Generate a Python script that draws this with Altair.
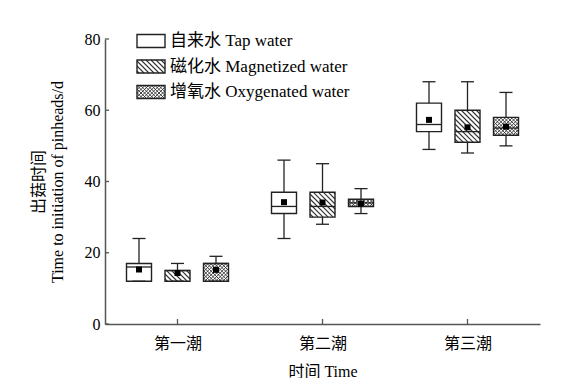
import altair as alt
import pandas as pd

# ---------------- data ----------------
groups = ["第一潮", "第二潮", "第三潮"]
series = ["自来水 Tap water", "磁化水 Magnetized water", "增氧水 Oxygenated water"]
patterns = ["none", "diag", "cross"]

# per series: values for the three flushes
mins   = [[12, 24, 49], [12, 28, 48], [12, 31, 50]]
q1s    = [[12, 31, 54], [12, 30, 51], [12, 33, 53]]
meds   = [[16, 33, 56], [15, 33, 54], [17, 34, 55]]
q3s    = [[17, 37, 62], [15, 37, 60], [17, 35, 58]]
maxs   = [[24, 46, 68], [17, 45, 68], [19, 38, 65]]
means  = [[15.3, 34.2, 57.3], [14.3, 34.1, 55.2], [15.2, 33.8, 55.4]]

y_ticks = [0, 20, 40, 60, 80]

# ---------------- layout helpers ----------------
W, H = 435, 285
XMAX, YMAX = 3.0, 80.0
PXX = W / XMAX          # px per x unit
PXY = H / YMAX          # px per y unit
OFF = 38.5 / PXX        # series offset within a group
HALF = 12.5 / PXX       # half box width
CAP = 6.5 / PXX         # half cap width

def px2x(p):
    return p / PXX

def px2y(p):
    return YMAX - p / PXY

FONT = "Liberation Serif, Noto Sans CJK SC"

rows = []
for si, s in enumerate(series):
    for gi, g in enumerate(groups):
        xc = gi + 0.5 + (si - 1) * OFF
        rows.append(dict(series=s, group=g, pattern=patterns[si], xc=xc,
                         x0=xc - HALF, x1=xc + HALF, c0=xc - CAP, c1=xc + CAP,
                         lo=mins[si][gi], q1=q1s[si][gi], med=meds[si][gi],
                         q3=q3s[si][gi], hi=maxs[si][gi], mean=means[si][gi]))
df = pd.DataFrame(rows)

# legend boxes (pixel layout within plot, converted to data units)
leg_rows = []
for si, s in enumerate(series):
    cy = 2.0 + si * 25.5
    leg_rows.append(dict(series=s, pattern=patterns[si],
                         x0=px2x(32), x1=px2x(60),
                         y0=px2y(cy - 6.5), y1=px2y(cy + 6.5),
                         tx=px2x(65), ty=px2y(cy)))
leg = pd.DataFrame(leg_rows)

# hatch lines generated from box rectangles (pixel space, then to data units)
def hatch(x0, x1, ytop, ybot, kind):
    segs = []
    if kind == "none":
        return segs
    sp = 5.0 if kind == "diag" else 3.6
    dirs = ["back"] if kind == "diag" else ["back", "fwd"]
    for d in dirs:
        if d == "back":   # y = x + c  (top-left to bottom-right)
            cmin = ytop - x1
            cmax = ybot - x0
            k = int(cmin // sp)
            while k * sp <= cmax:
                c = k * sp
                a = max(x0, ytop - c)
                b = min(x1, ybot - c)
                if b - a > 0.3:
                    segs.append((a, a + c, b, b + c))
                k += 1
        else:             # x + y = c
            cmin = x0 + ytop
            cmax = x1 + ybot
            k = int(cmin // sp)
            while k * sp <= cmax:
                c = k * sp
                a = max(x0, c - ybot)
                b = min(x1, c - ytop)
                if b - a > 0.3:
                    segs.append((a, c - a, b, c - b))
                k += 1
    return segs

hrows = []
def add_hatch(x0d, x1d, ytopd, ybotd, kind):
    x0p, x1p = x0d * PXX, x1d * PXX
    ytp, ybp = (YMAX - ytopd) * PXY, (YMAX - ybotd) * PXY
    for (ax, ay, bx, by) in hatch(x0p, x1p, ytp, ybp, kind):
        hrows.append(dict(kind=kind, hx=px2x(ax), hy=px2y(ay),
                          hx2=px2x(bx), hy2=px2y(by)))

for r in rows:
    add_hatch(r["x0"], r["x1"], r["q3"], r["q1"], r["pattern"])
for r in leg_rows:
    add_hatch(r["x0"], r["x1"], r["y0"], r["y1"], r["pattern"])
hdf = pd.DataFrame(hrows)

# axis tick marks (inward)
ytick_df = pd.DataFrame({"v": y_ticks, "a": 0.0, "b": px2x(4)})
xtick_df = pd.DataFrame({"v": [0.5, 1.5, 2.5], "a": 0.0, "b": 5 / PXY})

# ---------------- chart ----------------
label_expr = "datum.value < 1 ? '第一潮' : datum.value < 2 ? '第二潮' : '第三潮'"
xs = alt.Scale(domain=[0, XMAX], nice=False, zero=False)
ys = alt.Scale(domain=[0, YMAX], nice=False)

X = alt.X("xc:Q", scale=xs,
          axis=alt.Axis(values=[0.5, 1.5, 2.5], labelExpr=label_expr, ticks=False,
                        grid=False, title="时间 Time", labelPadding=11,
                        titlePadding=12, domainColor="#555", domainWidth=1.5))
Y = alt.Y("lo:Q", scale=ys,
          axis=alt.Axis(values=y_ticks, ticks=False, grid=False,
                        title=["出菇时间", "Time to initiation of pinheads/d"],
                        labelPadding=5, titlePadding=19, titleLineHeight=19,
                        domainColor="#555", domainWidth=1.5))

base = alt.Chart(df)
whisk = base.mark_rule(color="#222", strokeWidth=1.3).encode(x=X, y=Y, y2="hi:Q")
boxfill = base.mark_rect(fill="white").encode(x="x0:Q", x2="x1:Q", y="q1:Q", y2="q3:Q")
hat = alt.Chart(hdf).mark_rule(color="#333").encode(
    x="hx:Q", y="hy:Q", x2="hx2:Q", y2="hy2:Q",
    strokeWidth=alt.condition("datum.kind == 'diag'", alt.value(1.1), alt.value(0.9)))
med = base.mark_rule(color="#222", strokeWidth=1.3).encode(x="x0:Q", x2="x1:Q", y="med:Q")
boxline = base.mark_rect(fill=None, stroke="#222", strokeWidth=1.4).encode(
    x="x0:Q", x2="x1:Q", y="q1:Q", y2="q3:Q")
caps_hi = base.mark_rule(color="#222", strokeWidth=1.3).encode(x="c0:Q", x2="c1:Q", y="hi:Q")
caps_lo = base.mark_rule(color="#222", strokeWidth=1.3).encode(x="c0:Q", x2="c1:Q", y="lo:Q")
mean_pt = base.mark_square(color="black", opacity=1, size=36).encode(x="xc:Q", y="mean:Q")

legbox_fill = alt.Chart(leg).mark_rect(fill="white").encode(
    x="x0:Q", x2="x1:Q", y="y0:Q", y2="y1:Q")
legbox_line = alt.Chart(leg).mark_rect(fill=None, stroke="#222", strokeWidth=1.4).encode(
    x="x0:Q", x2="x1:Q", y="y0:Q", y2="y1:Q")
legtext = alt.Chart(leg).mark_text(align="left", baseline="middle", font=FONT,
                                   fontSize=17, color="black").encode(
    x="tx:Q", y="ty:Q", text="series:N")

yt = alt.Chart(ytick_df).mark_rule(color="#555", strokeWidth=1.3).encode(
    x="a:Q", x2="b:Q", y="v:Q")
xt = alt.Chart(xtick_df).mark_rule(color="#555", strokeWidth=1.3).encode(
    x="v:Q", y="a:Q", y2="b:Q")

chart = alt.layer(
    whisk, boxfill, legbox_fill, hat, med, boxline, caps_hi, caps_lo, mean_pt,
    legbox_line, legtext, yt, xt
).properties(
    width=W, height=H,
    background="white",
    autosize=alt.AutoSizeParams(type="none"),
    padding={"left": 97, "top": 31, "right": 37, "bottom": 54},
).configure_view(stroke=None).configure_axis(
    labelFont=FONT, titleFont=FONT, labelFontSize=16, titleFontSize=16,
    labelColor="black", titleColor="black", titleFontWeight="normal",
)

chart.save("out.html", embed_options={"renderer": "svg", "actions": False})
